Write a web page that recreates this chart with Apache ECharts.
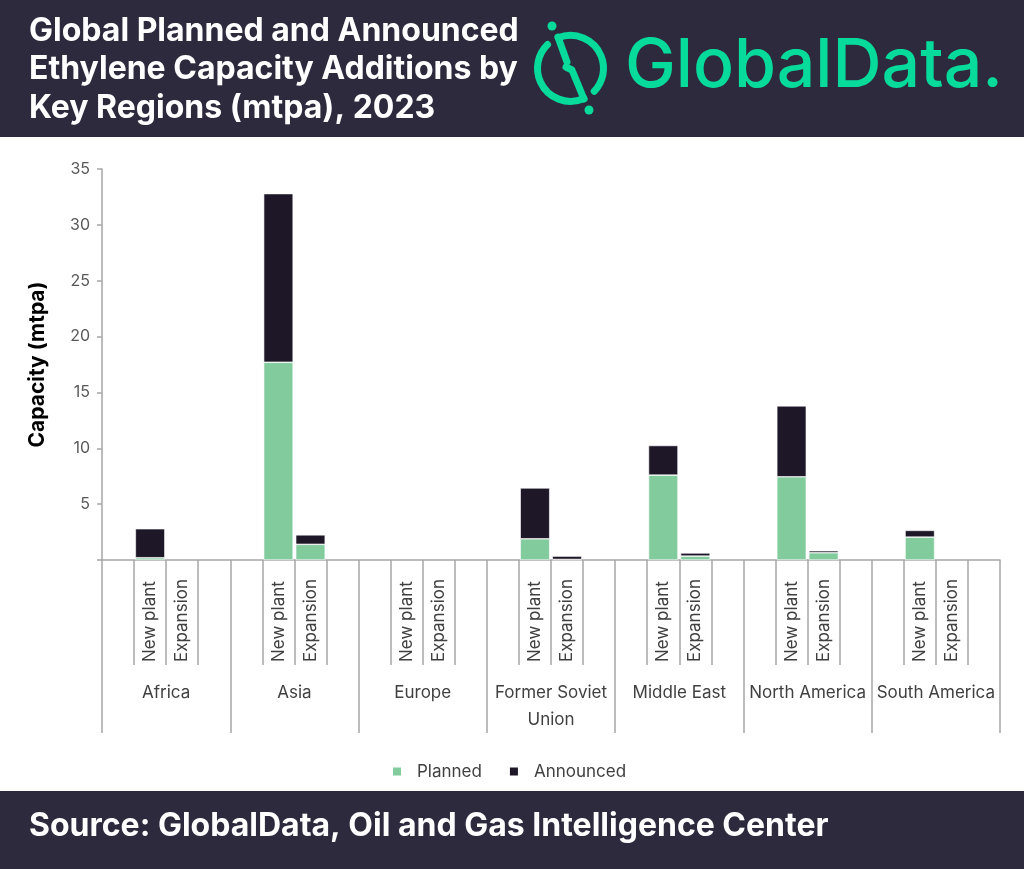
<!DOCTYPE html>
<html>
<head>
<meta charset="utf-8">
<script src="https://cdn.jsdelivr.net/npm/echarts@6/dist/echarts.min.js"></script>
<style>
html,body{margin:0;padding:0;background:#fff;}
#c{width:1024px;height:869px;}
</style>
</head>
<body>
<div id="c"></div>
<script>
// ---- data ----
var regions = ['Africa', 'Asia', 'Europe', 'Former Soviet\nUnion', 'Middle East', 'North America', 'South America'];
var subCategories = ['', 'New plant', 'Expansion', ''];
var plannedNewPlant   = [0.2, 17.7, 0, 1.9, 7.6, 7.45, 2.05];
var announcedNewPlant = [2.6, 15.1, 0, 4.55, 2.65, 6.35, 0.6];
var plannedExpansion   = [0, 1.4, 0, 0.05, 0.35, 0.65, 0];
var announcedExpansion = [0, 0.85, 0, 0.3, 0.28, 0.18, 0];
var yTicks = [0, 5, 10, 15, 20, 25, 30, 35];

// build 28-slot category axis (4 slots per region)
var slots = [], planned = [], announced = [];
regions.forEach(function (r, i) {
  subCategories.forEach(function (s, j) {
    slots.push(s);
    if (j === 1) { planned.push(plannedNewPlant[i] || '-'); announced.push(announcedNewPlant[i] || '-'); }
    else if (j === 2) { planned.push(plannedExpansion[i] || '-'); announced.push(announcedExpansion[i] || '-'); }
    else { planned.push('-'); announced.push('-'); }
  });
});

var chart = echarts.init(document.getElementById('c'), null, {renderer: 'canvas'});
var axisGray = '#a6a6a6';
var textGray = '#404040';
var green = '#82cb9c';
var dark = '#1d1727';
var brand = '#06db9c';
var bg = '#2d2a3d';

chart.setOption({
  backgroundColor: '#ffffff',
  animation: false,
  textStyle: {fontFamily: 'Inter'},
  graphic: [
    {type: 'rect', shape: {x: 0, y: 0, width: 1024, height: 137}, style: {fill: bg}, z: 0},
    {type: 'rect', shape: {x: 0, y: 791, width: 1024, height: 78}, style: {fill: bg}, z: 0},
    {type: 'text', left: 29, top: 12, style: {text: 'Global Planned and Announced\nEthylene Capacity Additions by\nKey Regions (mtpa), 2023', fill: '#ffffff', font: 'bold 32px Inter', lineHeight: 38.5}},
    {type: 'text', left: 29, top: 810, style: {text: 'Source: GlobalData, Oil and Gas Intelligence Center', fill: '#ffffff', font: 'bold 32px Inter'}},
    // logo
    {type: 'arc', shape: {cx: 570.5, cy: 68.3, r: 33, startAngle: -112 * Math.PI / 180, endAngle: 44 * Math.PI / 180, clockwise: true}, style: {stroke: brand, lineWidth: 7, fill: null, lineCap: 'round'}},
    {type: 'arc', shape: {cx: 570.5, cy: 68.3, r: 33, startAngle: 66 * Math.PI / 180, endAngle: 226 * Math.PI / 180, clockwise: true}, style: {stroke: brand, lineWidth: 7, fill: null, lineCap: 'round'}},
    {type: 'polyline', shape: {points: [[558, 37], [567, 62]]}, style: {stroke: brand, lineWidth: 7, fill: null, lineCap: 'round'}},
    {type: 'polyline', shape: {points: [[566, 67], [572, 70], [584, 99]]}, style: {stroke: brand, lineWidth: 7, fill: null, lineCap: 'round', lineJoin: 'round'}},
    {type: 'circle', shape: {cx: 552, cy: 26, r: 4.5}, style: {fill: brand}},
    {type: 'circle', shape: {cx: 589, cy: 110, r: 4.5}, style: {fill: brand}},
    {type: 'text', left: 625, top: 33, style: {text: 'GlobalData.', fill: brand, font: '500 68px Inter', letterSpacing: 2}}
  ],
  legend: {
    left: 386, top: 758,
    itemWidth: 10, itemHeight: 10, itemGap: 26,
    icon: 'rect',
    textStyle: {color: textGray, fontSize: 17, fontFamily: 'Inter', padding: [0, 0, 0, 10]},
    data: ['Planned', 'Announced']
  },
  grid: {left: 102, right: 24, top: 169, bottom: 309, containLabel: false},
  xAxis: [
    {
      type: 'category', data: slots, position: 'bottom',
      axisLine: {show: true, lineStyle: {color: axisGray, width: 1.5}},
      axisTick: {show: true, interval: 0, length: 105, lineStyle: {color: axisGray, width: 1.5}},
      axisLabel: {interval: 0, rotate: 90, align: 'left', verticalAlign: 'middle', margin: 102, color: textGray, fontSize: 17, fontFamily: 'Inter'}
    },
    {
      type: 'category', data: regions, position: 'bottom',
      axisLine: {show: false},
      axisTick: {show: true, interval: 0, length: 173, lineStyle: {color: axisGray, width: 1.5}},
      axisLabel: {interval: 0, margin: 119, verticalAlign: 'top', lineHeight: 27, color: textGray, fontSize: 17, fontFamily: 'Inter'}
    }
  ],
  yAxis: {
    type: 'value', min: 0, max: 35, interval: 5,
    name: 'Capacity (mtpa)', nameLocation: 'middle', nameGap: 54,
    nameTextStyle: {color: '#000000', fontSize: 21, fontWeight: 'bold', fontFamily: 'Inter'},
    axisLine: {show: true, lineStyle: {color: axisGray, width: 1.5}},
    axisTick: {show: true, length: 5, lineStyle: {color: axisGray, width: 1.5}},
    splitLine: {show: false},
    axisLabel: {color: '#595959', fontSize: 16, margin: 12, fontFamily: 'Inter',
      formatter: function (v) { return (yTicks.indexOf(v) > 0) ? String(v) : ''; }}
  },
  series: [
    {name: 'Planned', type: 'bar', stack: 'cap', xAxisIndex: 0, data: planned, barCategoryGap: '8%',
     itemStyle: {color: green, borderColor: '#ffffff', borderWidth: 0.6}},
    {name: 'Announced', type: 'bar', stack: 'cap', xAxisIndex: 0, data: announced, barCategoryGap: '8%',
     itemStyle: {color: dark, borderColor: '#ffffff', borderWidth: 0.6}}
  ]
});
</script>
</body>
</html>
